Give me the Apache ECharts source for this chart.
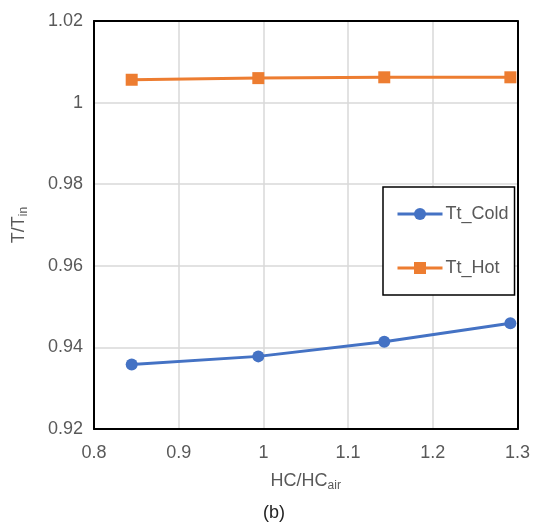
<!DOCTYPE html>
<html>
<head>
<meta charset="utf-8">
<script src="https://cdn.jsdelivr.net/npm/echarts@6/dist/echarts.min.js"></script>
<style>
  html, body { margin: 0; padding: 0; background: #fff; }
  #chart { width: 533px; height: 523px; }
</style>
</head>
<body>
<div id="chart"></div>
<script>
// Heat-capacity ratio (x) against normalised temperature (y)
const hcRatio = [0.8445, 0.994, 1.1427, 1.2916];
const ttCold = [0.9358, 0.9378, 0.9414, 0.9459];
const ttHot = [1.0056, 1.0060, 1.0062, 1.0062];
const seriesNames = ['Tt_Cold', 'Tt_Hot'];

const font = '"Liberation Sans", Arial, sans-serif';
const textGrey = '#595959';

const chart = echarts.init(document.getElementById('chart'), null, { renderer: 'canvas' });

const titleRich = {
  a: { fontSize: 18, color: textGrey, fontFamily: font },
  s: { fontSize: 12, color: textGrey, fontFamily: font, verticalAlign: 'bottom', padding: [9, 0, 0, 0] }
};

// plain black frame lines for the top and right edges of the plot
const frameAxis = {
  type: 'value',
  axisLine: { show: true, onZero: false, lineStyle: { color: '#000', width: 2 } },
  axisTick: { show: false },
  axisLabel: { show: false },
  splitLine: { show: false }
};

chart.setOption({
  animation: false,
  backgroundColor: '#ffffff',
  grid: {
    left: 94, top: 21, right: 12, bottom: 94
  },
  xAxis: [{
    type: 'value',
    min: 0.8, max: 1.3, interval: 0.1,
    name: '{a|HC/HC}{s|air}',
    nameLocation: 'middle',
    nameGap: 42,
    nameTextStyle: { rich: titleRich },
    axisLine: { show: true, onZero: false, lineStyle: { color: '#000', width: 2 } },
    axisTick: { show: false },
    axisLabel: { color: textGrey, fontSize: 18, fontFamily: font, margin: 15 },
    splitLine: { show: true, lineStyle: { color: '#d9d9d9', width: 1.5 } }
  }, Object.assign({ position: 'top', min: 0.8, max: 1.3 }, frameAxis)],
  yAxis: [{
    type: 'value',
    min: 0.92, max: 1.02, interval: 0.02,
    name: '{a|T/T}{s|in}',
    nameLocation: 'middle',
    nameGap: 64,
    nameRotate: 90,
    nameTextStyle: { rich: titleRich },
    axisLine: { show: true, onZero: false, lineStyle: { color: '#000', width: 2 } },
    axisTick: { show: false },
    axisLabel: { color: textGrey, fontSize: 18, fontFamily: font, margin: 11 },
    splitLine: { show: true, lineStyle: { color: '#d9d9d9', width: 1.5 } }
  }, Object.assign({ position: 'right', min: 0.92, max: 1.02 }, frameAxis)],
  legend: {
    orient: 'vertical',
    left: 383, top: 187,
    padding: [18, 6, 18, 13],
    itemGap: 36,
    itemWidth: 45, itemHeight: 15,
    borderColor: '#000', borderWidth: 1.5,
    backgroundColor: '#fff',
    lineStyle: { width: 3 },
    textStyle: { color: textGrey, fontSize: 18, fontFamily: font, padding: [0, 0, 0, -2] },
    data: seriesNames
  },
  graphic: [{
    type: 'text',
    left: 263,
    top: 504,
    style: { text: '(b)', fill: '#222', fontSize: 18, fontFamily: font }
  }],
  series: [
    {
      name: seriesNames[0],
      type: 'line',
      data: hcRatio.map((x, i) => [x, ttCold[i]]),
      symbol: 'circle', symbolSize: 12,
      lineStyle: { color: '#4472c4', width: 3 },
      itemStyle: { color: '#4472c4' }
    },
    {
      name: seriesNames[1],
      type: 'line',
      data: hcRatio.map((x, i) => [x, ttHot[i]]),
      symbol: 'rect', symbolSize: 12,
      lineStyle: { color: '#ed7d31', width: 3 },
      itemStyle: { color: '#ed7d31' }
    }
  ]
});
</script>
</body>
</html>
